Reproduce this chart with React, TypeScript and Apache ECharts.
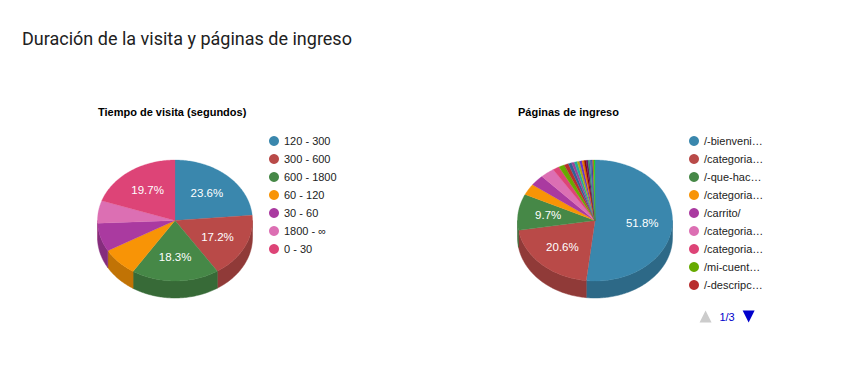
import React, { useEffect, useRef } from "react";
import * as echarts from "echarts";

const TITLE = "Duración de la visita y páginas de ingreso";
const VISIT_SUBTITLE = "Tiempo de visita (segundos)";
const PAGES_SUBTITLE = "Páginas de ingreso";

const visitCategories = ["120 - 300", "300 - 600", "600 - 1800", "60 - 120", "30 - 60", "1800 - ∞", "0 - 30"];
const visitValues = [23.6, 17.2, 18.3, 7.6, 7.6, 6.0, 19.7];
const visitColors = ["#3a87ad", "#b94a48", "#468847", "#f89406", "#aa3aa0", "#dc6fb3", "#dd4477"];

const pageCategories = [
  "/-bienvenida/",
  "/categoria-producto/zapatos/",
  "/-que-hacemos/",
  "/categoria-producto/bolsos/",
  "/carrito/",
  "/categoria-producto/accesorios/",
  "/categoria-producto/ropa/",
  "/mi-cuenta-usuario/",
  "/-descripcion/",
  "/contacto/",
  "/producto/bolso-cuero/",
  "/producto/zapatilla-urbana/",
  "/finalizar-compra/",
  "/-nosotros/",
  "/blog/",
  "/producto/cinturon/",
  "/categoria-producto/ofertas/",
  "/-preguntas-frecuentes/",
  "/producto/mochila/",
  "/mi-cuenta/pedidos/",
  "/-envios/",
  "/-terminos/",
];
const pageValues = [51.8, 20.6, 9.7, 3.0, 2.9, 2.9, 1.4, 1.2, 0.9, 0.7, 0.6, 0.6, 0.5, 0.5, 0.45, 0.4, 0.4, 0.35, 0.3, 0.3, 0.3, 0.2];
const pageColors = [
  "#3a87ad", "#b94a48", "#468847", "#f89406", "#aa3aa0", "#dc6fb3", "#dd4477", "#66aa00", "#b82e2e",
  "#316395", "#994499", "#22aa99", "#aaaa11", "#6633cc", "#e67300", "#8b0707", "#651067", "#329262",
  "#5574a6", "#3b3eac", "#b77322", "#16d620",
];

const ARIAL = "'Liberation Sans', Arial, sans-serif";

function darken(hex: string, f: number) {
  const n = parseInt(hex.slice(1), 16);
  const r = Math.round(((n >> 16) & 255) * f);
  const g = Math.round(((n >> 8) & 255) * f);
  const b = Math.round((n & 255) * f);
  return "rgb(" + r + "," + g + "," + b + ")";
}

function makeRenderer(values: number[], colors: string[], cx: number, cy: number, rx: number, ry: number, depth: number) {
  const total = values.reduce((a, b) => a + b, 0);
  const starts: number[] = [];
  let acc = 0;
  values.forEach((v) => {
    starts.push((acc / total) * Math.PI * 2);
    acc += v;
  });
  const pt = (a: number, dy: number) => [cx + rx * Math.sin(a), cy - ry * Math.cos(a) + dy];
  const arc = (s: number, e: number, dy: number) => {
    const n = Math.max(2, Math.ceil((e - s) / (Math.PI / 180)));
    const pts: number[][] = [];
    for (let k = 0; k <= n; k++) pts.push(pt(s + ((e - s) * k) / n, dy));
    return pts;
  };
  return (params: any, api: any) => {
    const i = params.dataIndex;
    const v = api.value(0);
    const a0 = starts[i];
    const a1 = a0 + (v / total) * Math.PI * 2;
    const color = colors[i];
    const children: any[] = [];
    const s = Math.max(a0, Math.PI / 2);
    const e = Math.min(a1, (Math.PI * 3) / 2);
    if (e > s) {
      const top = arc(s, e, 0);
      const bottom = arc(s, e, depth).reverse();
      children.push({
        type: "polygon",
        shape: { points: top.concat(bottom) },
        style: { fill: darken(color, 0.78), stroke: darken(color, 0.78), lineWidth: 0.5 },
      });
    }
    children.push({
      type: "polygon",
      shape: { points: [[cx, cy]].concat(arc(a0, a1, 0)) },
      style: { fill: color, stroke: color, lineWidth: 0.3 },
    });
    const pct = (v / total) * 100;
    if (pct >= 9) {
      const m = (a0 + a1) / 2;
      children.push({
        type: "text",
        z2: 10,
        style: {
          text: pct.toFixed(1) + "%",
          x: cx + rx * 0.61 * Math.sin(m),
          y: cy - ry * 0.61 * Math.cos(m),
          fill: "#ffffff",
          font: "11.5px " + ARIAL,
          align: "center",
          verticalAlign: "middle",
        },
      });
    }
    return { type: "group", children };
  };
}

export default function App() {
  const ref = useRef<HTMLDivElement>(null);
  useEffect(() => {
    document.body.style.margin = "0";
    const chart = echarts.init(ref.current!, null, { renderer: "svg" });
    const RX = 77.5, RY = 60.5, DEPTH = 17, CY = 220.5;
    const legendText = { fontSize: 11, color: "#222222", fontFamily: ARIAL };
    chart.setOption({
      animation: false,
      backgroundColor: "#ffffff",
      title: [
        {
          text: TITLE,
          left: 22,
          top: 29,
          padding: 0,
          textStyle: { fontFamily: "Roboto", fontSize: 18, fontWeight: "normal", color: "#212121" },
        },
        {
          text: VISIT_SUBTITLE,
          left: 98,
          top: 106,
          padding: 0,
          textStyle: { fontFamily: ARIAL, fontSize: 11, fontWeight: "bold", color: "#000000" },
        },
        {
          text: PAGES_SUBTITLE,
          left: 518,
          top: 106,
          padding: 0,
          textStyle: { fontFamily: ARIAL, fontSize: 11, fontWeight: "bold", color: "#000000" },
        },
      ],
      legend: [
        {
          orient: "vertical",
          left: 269,
          top: 135.5,
          padding: 0,
          icon: "circle",
          itemWidth: 10,
          itemHeight: 10,
          itemGap: 7,
          selectedMode: false,
          textStyle: legendText,
          data: visitCategories,
        },
        {
          type: "scroll",
          orient: "vertical",
          left: 689,
          top: 135.5,
          height: 187,
          padding: 0,
          icon: "circle",
          itemWidth: 10,
          itemHeight: 10,
          itemGap: 7,
          selectedMode: false,
          textStyle: { ...legendText, width: 63, overflow: "truncate", ellipsis: "…" },
          data: pageCategories,
          pageButtonPosition: "end",
          pageButtonGap: 16,
          pageButtonItemGap: 3,
          pageIconSize: 12,
          pageIconColor: "#0000cc",
          pageIconInactiveColor: "#cccccc",
          pageTextStyle: { color: "#0000cc", fontSize: 11, fontFamily: ARIAL },
          pageFormatter: "{current}/{total}",
        },
      ],
      series: [
        {
          type: "pie",
          silent: true,
          center: [-300, -300],
          radius: [0, 1],
          label: { show: false },
          labelLine: { show: false },
          data: visitCategories.map((n, i) => ({ name: n, value: visitValues[i], itemStyle: { color: visitColors[i] } })),
        },
        {
          type: "pie",
          silent: true,
          center: [-300, -300],
          radius: [0, 1],
          label: { show: false },
          labelLine: { show: false },
          data: pageCategories.map((n, i) => ({ name: n, value: pageValues[i], itemStyle: { color: pageColors[i] } })),
        },
        {
          type: "custom",
          coordinateSystem: "none",
          silent: true,
          renderItem: makeRenderer(visitValues, visitColors, 175, CY, RX, RY, DEPTH),
          data: visitValues.map((v) => [v]),
        },
        {
          type: "custom",
          coordinateSystem: "none",
          silent: true,
          renderItem: makeRenderer(pageValues, pageColors, 595, CY, RX, RY, DEPTH),
          data: pageValues.map((v) => [v]),
        },
      ],
    });
    return () => chart.dispose();
  }, []);
  return <div ref={ref} style={{ width: 863, height: 371 }} />;
}
